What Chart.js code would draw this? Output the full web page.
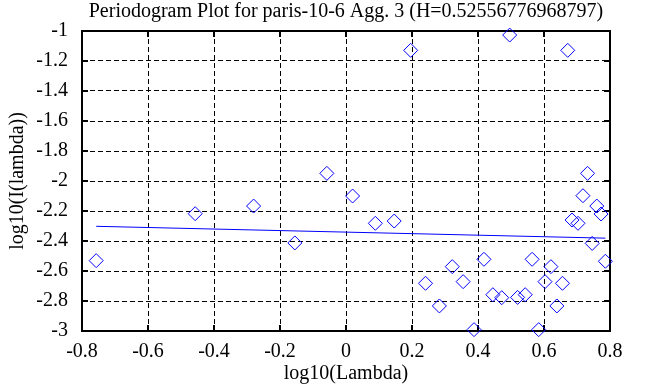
<!DOCTYPE html>
<html>
<head>
<meta charset="utf-8">
<script src="https://cdn.jsdelivr.net/npm/chart.js@4/dist/chart.umd.min.js"></script>
<style>
  html, body { margin: 0; padding: 0; background: #fff; }
  #wrap { width: 647px; height: 387px; }
</style>
</head>
<body>
<div id="wrap"><canvas id="c" width="647" height="387"></canvas></div>
<script>
const titleText = 'Periodogram Plot for paris-10-6 Agg. 3 (H=0.52556776968797)';
const xLabel = 'log10(Lambda)';
const yLabel = 'log10(I(lambda))';

const logLambda = [-0.757, -0.457, -0.280, -0.155, -0.058, 0.020, 0.089, 0.146, 0.196, 0.241,
  0.283, 0.322, 0.355, 0.388, 0.418, 0.445, 0.472, 0.496, 0.520, 0.543,
  0.564, 0.584, 0.603, 0.621, 0.639, 0.656, 0.672, 0.685, 0.703, 0.718,
  0.732, 0.746, 0.760, 0.773, 0.786];
const logI = [-2.531, -2.218, -2.167, -2.413, -1.949, -2.100, -2.282, -2.267, -1.129, -2.682,
  -2.833, -2.571, -2.671, -2.991, -2.522, -2.758, -2.778, -1.027, -2.776, -2.758,
  -2.522, -2.991, -2.671, -2.571, -2.833, -2.682, -1.129, -2.260, -2.282, -2.098,
  -1.949, -2.416, -2.167, -2.220, -2.535];

const fitX = [-0.757, 0.786];
const fitY = [-2.302, -2.381];

const xTicks = [-0.8, -0.6, -0.4, -0.2, 0, 0.2, 0.4, 0.6, 0.8];
const yTicks = [-3, -2.8, -2.6, -2.4, -2.2, -2, -1.8, -1.6, -1.4, -1.2, -1];

const FONT = "'Liberation Serif', 'Times New Roman', serif";

const framePlugin = {
  id: 'frame',
  beforeDatasetsDraw(chart) {
    const {ctx, chartArea: a, scales} = chart;
    ctx.save();
    ctx.strokeStyle = '#000';
    ctx.lineWidth = 2;
    ctx.setLineDash([]);
    ctx.strokeRect(a.left, a.top, a.right - a.left, a.bottom - a.top);
    const L = 6;
    ctx.beginPath();
    xTicks.forEach(v => {
      const px = Math.round(scales.x.getPixelForValue(v));
      ctx.moveTo(px, a.top); ctx.lineTo(px, a.top + L);
      ctx.moveTo(px, a.bottom); ctx.lineTo(px, a.bottom - L);
    });
    yTicks.forEach(v => {
      const py = Math.round(scales.y.getPixelForValue(v));
      ctx.moveTo(a.left, py); ctx.lineTo(a.left + L, py);
      ctx.moveTo(a.right, py); ctx.lineTo(a.right - L, py);
    });
    ctx.stroke();
    ctx.restore();
  },
  afterDraw(chart) {
    const {ctx, chartArea: a} = chart;
    ctx.save();
    ctx.fillStyle = '#000';
    ctx.font = '20px ' + FONT;
    ctx.textAlign = 'center';
    ctx.textBaseline = 'middle';
    ctx.fillText(titleText, (a.left + a.right) / 2, 12);
    ctx.restore();
  }
};

const fmt = v => {
  const r = Math.round(v * 10) / 10;
  return r === 0 ? '0' : String(r);
};

new Chart(document.getElementById('c'), {
  type: 'scatter',
  data: {
    datasets: [
      {
        label: 'periodogram',
        data: logLambda.map((x, i) => ({x, y: logI[i]})),
        pointStyle: 'rectRot',
        pointRadius: 7,
        pointHoverRadius: 7,
        borderColor: '#0000ff',
        backgroundColor: 'rgba(0,0,0,0)',
        borderWidth: 1,
        showLine: false,
        clip: false
      },
      {
        label: 'fit',
        type: 'line',
        data: fitX.map((x, i) => ({x, y: fitY[i]})),
        borderColor: '#0000ff',
        borderWidth: 1,
        pointRadius: 0,
        fill: false,
        tension: 0
      }
    ]
  },
  options: {
    responsive: false,
    animation: false,
    devicePixelRatio: 1,
    layout: { padding: { left: 0, right: 37, top: 31, bottom: 0 } },
    plugins: {
      legend: { display: false },
      tooltip: { enabled: false },
      title: { display: false }
    },
    scales: {
      x: {
        type: 'linear',
        min: -0.8, max: 0.8,
        afterBuildTicks: s => { s.ticks = xTicks.map(v => ({value: v})); },
        afterFit: s => { s.height = 56; },
        grid: { color: '#000', lineWidth: 1, drawTicks: false },
        border: { display: false, dash: [5, 3] },
        ticks: { color: '#000', padding: 9, maxRotation: 0, font: { family: FONT, size: 20 }, callback: fmt },
        title: { display: true, text: xLabel, color: '#000', font: { family: FONT, size: 20, lineHeight: 1.2 }, padding: { top: 0, bottom: 1 } }
      },
      y: {
        type: 'linear',
        min: -3, max: -1,
        afterBuildTicks: s => { s.ticks = yTicks.map(v => ({value: v})); },
        afterFit: s => { s.width = 82; },
        grid: { color: '#000', lineWidth: 1, drawTicks: false },
        border: { display: false, dash: [5, 3] },
        ticks: { color: '#000', padding: 14, font: { family: FONT, size: 20 }, callback: fmt },
        title: { display: true, text: yLabel, color: '#000', font: { family: FONT, size: 20, lineHeight: 1.2 }, padding: { top: 6, bottom: 0 } }
      }
    }
  },
  plugins: [framePlugin]
});
</script>
</body>
</html>
